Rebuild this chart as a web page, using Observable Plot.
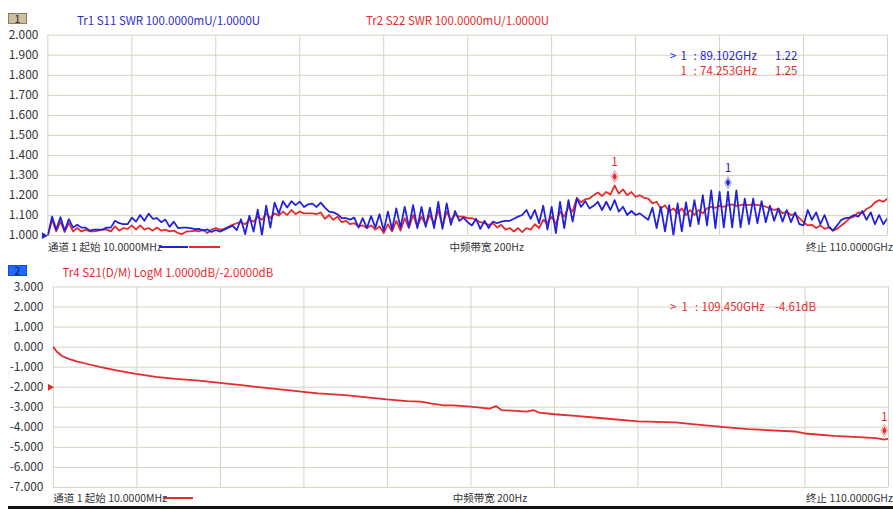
<!DOCTYPE html>
<html><head><meta charset="utf-8">
<script src="https://cdn.jsdelivr.net/npm/d3@7"></script>
<script src="https://cdn.jsdelivr.net/npm/@observablehq/plot@0.6"></script>
<style>
html,body{margin:0;padding:0;background:#fff;overflow:hidden;}
#root{position:relative;width:893px;height:509px;overflow:hidden;font-family:"Noto Sans CJK SC","Noto Sans",sans-serif;}
.t{position:absolute;white-space:pre;line-height:1;}
.plot{position:absolute;left:0;}
.badge{position:absolute;box-sizing:border-box;text-align:center;font-size:10.5px;line-height:9px;}
.seg{position:absolute;height:2px;}
</style>
</head><body><div id="root"></div>
<script>
// ---- data ----
const sweepStart = 0.01, sweepStop = 110, sweepPoints = 201; // GHz
const s11 = [
1.000,1.095,1.030,1.092,1.025,1.082,1.040,1.054,1.040,1.040,
1.025,1.030,1.030,1.030,1.040,1.040,1.074,1.062,1.057,1.057,
1.090,1.070,1.103,1.074,1.110,1.084,1.087,1.067,1.080,1.044,
1.070,1.038,1.040,1.040,1.038,1.033,1.034,1.025,1.031,1.018,
1.028,1.020,1.030,1.040,1.050,1.028,1.082,1.008,1.100,1.020,
1.130,1.002,1.150,1.040,1.165,1.110,1.172,1.140,1.172,1.152,
1.170,1.143,1.156,1.160,1.143,1.165,1.140,1.120,1.116,1.107,
1.087,1.087,1.080,1.090,1.040,1.087,1.038,1.098,1.040,1.107,
1.025,1.120,1.031,1.136,1.040,1.144,1.044,1.152,1.038,1.143,
1.044,1.140,1.038,1.169,1.034,
1.161,1.054,1.123,1.074,1.090,
1.067,1.051,1.084,1.034,1.074,1.038,1.070,1.062,1.070,1.074,
1.074,1.084,1.095,1.103,1.128,1.084,1.128,1.062,1.149,1.030,
1.144,1.013,1.169,1.038,1.177,1.070,1.185,1.144,1.172,1.136,
1.149,1.169,1.128,1.169,1.128,1.177,1.120,1.144,1.103,1.123,
1.103,1.111,1.095,1.079,1.139,1.038,1.144,1.021,1.152,1.002,
1.161,1.021,1.166,1.046,1.177,1.057,1.202,1.051,1.226,1.038,
1.218,1.041,1.220,1.041,1.226,1.041,1.185,1.057,1.185,1.062,
1.172,1.067,1.149,1.074,1.136,1.070,1.128,1.067,1.116,1.057,
1.051,1.128,1.079,1.116,1.057,1.103,1.046,1.025,1.051,1.079,
1.087,1.090,1.103,1.095,1.123,1.079,1.116,1.057,1.103,1.057,1.087
];
const s22 = [
1.000,1.079,1.021,1.070,1.018,1.062,1.021,1.038,1.021,1.030,
1.021,1.021,1.025,1.030,1.030,1.021,1.046,1.025,1.038,1.034,
1.051,1.030,1.051,1.030,1.038,1.025,1.041,1.025,1.030,1.021,
1.025,1.013,1.008,1.021,1.021,1.025,1.021,1.030,1.013,1.030,
1.038,1.030,1.034,1.044,1.054,1.062,1.067,1.057,1.079,1.070,
1.095,1.079,1.111,1.087,1.111,1.100,1.120,1.103,1.128,1.107,
1.120,1.111,1.111,1.111,1.107,1.116,1.084,1.103,1.079,1.095,
1.067,1.074,1.057,1.062,1.046,1.051,1.038,1.051,1.030,1.046,
1.013,1.057,1.021,1.074,1.025,1.087,1.038,1.103,1.046,1.095,
1.054,1.103,1.057,1.128,1.046,
1.120,1.079,1.103,1.095,1.095,
1.087,1.087,1.079,1.067,1.062,1.054,1.062,1.041,1.054,1.030,
1.038,1.021,1.038,1.018,1.038,1.030,1.057,1.038,1.079,1.062,
1.095,1.057,1.120,1.095,1.144,1.120,1.189,1.166,1.182,1.185,
1.202,1.215,1.198,1.218,1.205,1.250,1.210,1.231,1.202,1.218,
1.193,1.202,1.189,1.185,1.161,1.169,1.136,1.152,1.120,1.136,
1.111,1.136,1.103,1.128,1.103,1.128,1.111,1.136,1.144,1.139,
1.149,1.144,1.152,1.156,1.149,1.152,1.156,1.152,1.156,1.152,
1.152,1.144,1.136,1.128,1.133,1.111,1.120,1.103,1.107,1.087,
1.067,1.051,1.054,1.038,1.051,1.034,1.041,1.025,1.034,1.051,
1.067,1.087,1.095,1.116,1.111,1.133,1.144,1.166,1.177,1.169,1.185
];
const s21Freq = [0.01,0.44,1.10,1.75,3.06,4.36,6.10,8.29,10.9,13.5,16.1,19.2,21.9,24.8,27.9,30.9,32.9,34.9,38.8,41.0,43.9,46.6,48.4,49.7,51.4,52.7,54.9,57.5,58.3,59.0,62.3,63.2,64.0,66.0,68.8,72.3,77.0,81.9,84.5,88.0,91.5,97.6,99.0,102.8,105.4,108.4,109.45,110];
const s21Db = [0,-0.22,-0.43,-0.55,-0.71,-0.83,-0.99,-1.16,-1.34,-1.49,-1.59,-1.67,-1.78,-1.90,-2.03,-2.15,-2.23,-2.31,-2.41,-2.49,-2.61,-2.69,-2.72,-2.81,-2.91,-2.91,-2.97,-3.07,-2.94,-3.14,-3.22,-3.14,-3.27,-3.35,-3.43,-3.55,-3.71,-3.76,-3.85,-3.98,-4.09,-4.21,-4.31,-4.43,-4.48,-4.54,-4.61,-4.57];
const topTicks = [2.0,1.9,1.8,1.7,1.6,1.5,1.4,1.3,1.2,1.1,1.0];
const botTicks = [3,2,1,0,-1,-2,-3,-4,-5,-6,-7];
const gridDivisions = 10;
const markersTop = [{f:74.253, v:1.25, c:"red"}, {f:89.102, v:1.22, c:"blue"}];
const markersBot = [{f:109.450, v:-4.61, c:"red"}];
const topRef = 1.0, botRef = -2.0;

// ---- styles ----
const BLUE = "#2222dd", RED = "#e82a2a", GRID = "#d8d2c4", TXT = "#333";
const FONT = '"Noto Sans CJK SC","Noto Sans",sans-serif';

const freq = d3.range(sweepPoints).map(i => sweepStart + i * (sweepStop - sweepStart) / (sweepPoints - 1));
const xGrid = d3.range(gridDivisions + 1).map(k => sweepStart + k * (sweepStop - sweepStart) / gridDivisions);
const s11Data = s11.map((v, i) => ({f: freq[i], v}));
const s22Data = s22.map((v, i) => ({f: freq[i], v}));
const s21Data = s21Freq.map((f, i) => ({f, v: s21Db[i]}));
const col = c => c === "blue" ? BLUE : RED;
const pale = c => c === "blue" ? "#dcdcf6" : "#fbe0e0";
const edge = c => c === "blue" ? "#a8a8e0" : "#eeaaaa";

function markerMarks(ms, dyTop) {
  return [
    Plot.dot(ms, {x: "f", y: "v", symbol: "diamond", r: 3.8, dy: -9, fill: d => pale(d.c), stroke: d => edge(d.c), strokeWidth: 1}),
    Plot.dot(ms, {x: "f", y: "v", symbol: "diamond", r: 2.4, dy: -9, fill: d => col(d.c)}),
    Plot.text(ms, {x: "f", y: "v", text: () => "1", dy: dyTop, fill: d => col(d.c), fontSize: 12})
  ];
}

const root = document.getElementById("root");

const topPlot = Plot.plot({
  width: 900, height: 260,
  marginLeft: 47.7, marginRight: 6, marginTop: 35, marginBottom: 23,
  x: {domain: [sweepStart, sweepStop], axis: null},
  y: {domain: [1, 2], axis: null, label: null},
  style: {fontFamily: FONT, fontSize: "12px", background: "transparent", overflow: "visible"},
  marks: [
    Plot.ruleY(topTicks, {stroke: GRID, strokeWidth: 1}),
    Plot.ruleX(xGrid, {stroke: GRID, strokeWidth: 1}),
    Plot.axisY(topTicks, {tickSize: 0, tickPadding: 9.5, tickFormat: d => d.toFixed(3), fill: TXT, label: null}),
    Plot.line(s22Data, {x: "f", y: "v", stroke: RED, strokeWidth: 1.8, clip: true}),
    Plot.line(s11Data, {x: "f", y: "v", stroke: BLUE, strokeWidth: 1.8, clip: true}),
    Plot.dot([{f: sweepStart, v: topRef}], {x: "f", y: "v", symbol: "triangle", rotate: 90, r: 2.6, dx: -4, fill: BLUE}),
    ...markerMarks(markersTop, -24)
  ]
});
topPlot.classList.add("plot");
topPlot.style.top = "0px";
root.appendChild(topPlot);

const botPlot = Plot.plot({
  width: 900, height: 248,
  marginLeft: 53.3, marginRight: 5, marginTop: 26.7, marginBottom: 19.3,
  x: {domain: [sweepStart, sweepStop], axis: null},
  y: {domain: [-7, 3], axis: null, label: null},
  style: {fontFamily: FONT, fontSize: "12px", background: "transparent", overflow: "visible"},
  marks: [
    Plot.ruleY(botTicks, {stroke: GRID, strokeWidth: 1}),
    Plot.ruleX(xGrid, {stroke: GRID, strokeWidth: 1}),
    Plot.axisY(botTicks, {tickSize: 0, tickPadding: 10, tickFormat: d => d.toFixed(3), fill: TXT, label: null}),
    Plot.line(s21Data, {x: "f", y: "v", stroke: RED, strokeWidth: 1.8, clip: true}),
    Plot.dot([{f: sweepStart, v: botRef}], {x: "f", y: "v", symbol: "triangle", rotate: 90, r: 2.6, dx: -3.5, fill: RED}),
    ...markerMarks(markersBot, -22)
  ]
});
botPlot.classList.add("plot");
botPlot.style.top = "260px";
root.appendChild(botPlot);

// ---- html text ----
function txt(s, x, yc, opts = {}) {
  const fs = opts.fs || 11.5;
  const el = document.createElement("div");
  el.className = "t";
  el.textContent = s;
  el.style.fontSize = fs + "px";
  el.style.color = opts.color || TXT;
  el.style.top = (yc - fs * 0.5) + "px";
  if (opts.right) { el.style.right = (893 - x) + "px"; } else { el.style.left = x + "px"; }
  root.appendChild(el);
}
function seg(x1, x2, y, color) {
  const el = document.createElement("div");
  el.className = "seg";
  el.style.left = x1 + "px"; el.style.width = (x2 - x1) + "px";
  el.style.top = (y - 1) + "px"; el.style.background = color;
  root.appendChild(el);
}
function badge(label, x, y, w, h, bg, border, color) {
  const el = document.createElement("div");
  el.className = "badge";
  el.textContent = label;
  Object.assign(el.style, {left: x + "px", top: y + "px", width: w + "px", height: h + "px", background: bg, border: "1px solid " + border, color});
  root.appendChild(el);
}

badge("1", 8, 13, 19, 11, "#cdbf9e", "#8c7c5c", "#222");
txt("Tr1 S11 SWR 100.0000mU/1.0000U", 77, 20.5, {color: "#2d2dcc"});
txt("Tr2 S22 SWR 100.0000mU/1.0000U", 366, 20.5, {color: RED});

txt(">", 670, 56, {color: BLUE}); txt("1", 680.5, 56, {color: BLUE}); txt(":", 693.5, 56, {color: BLUE});
txt("89.102GHz", 700, 56, {color: BLUE}); txt("1.22", 775, 56, {color: BLUE});
txt("1", 680.5, 71, {color: RED}); txt(":", 693.5, 71, {color: RED});
txt("74.253GHz", 700, 71, {color: RED}); txt("1.25", 775, 71, {color: RED});

txt("通道 1 起始 10.0000MHz", 48, 247, {fs: 10.5});
seg(159, 188, 246.7, BLUE); seg(189, 220, 246.7, RED);
txt("中频带宽 200Hz", 449.5, 247, {fs: 10.5});
txt("终止 110.0000GHz", 893, 247, {fs: 10.5, right: true});

badge("2", 8, 265, 19, 11, "#1f6bff", "#1050d0", "#10204a");
txt("Tr4 S21(D/M) LogM 1.0000dB/-2.0000dB", 62.5, 272.5, {color: RED});
txt(">", 670, 306.7, {color: RED}); txt("1", 681.5, 306.7, {color: RED}); txt(":", 695, 306.7, {color: RED});
txt("109.450GHz", 701.5, 306.7, {color: RED}); txt("-4.61dB", 775, 306.7, {color: RED});

txt("通道 1 起始 10.0000MHz", 53.3, 498, {fs: 10.5});
seg(163, 193, 498.3, RED);
txt("中频带宽 200Hz", 452.7, 498, {fs: 10.5});
txt("终止 110.0000GHz", 893, 498, {fs: 10.5, right: true});

const bar = document.createElement("div");
Object.assign(bar.style, {position: "absolute", left: "8px", right: "0", top: "506px", height: "3px", background: "#111"});
root.appendChild(bar);
</script>
</body></html>
